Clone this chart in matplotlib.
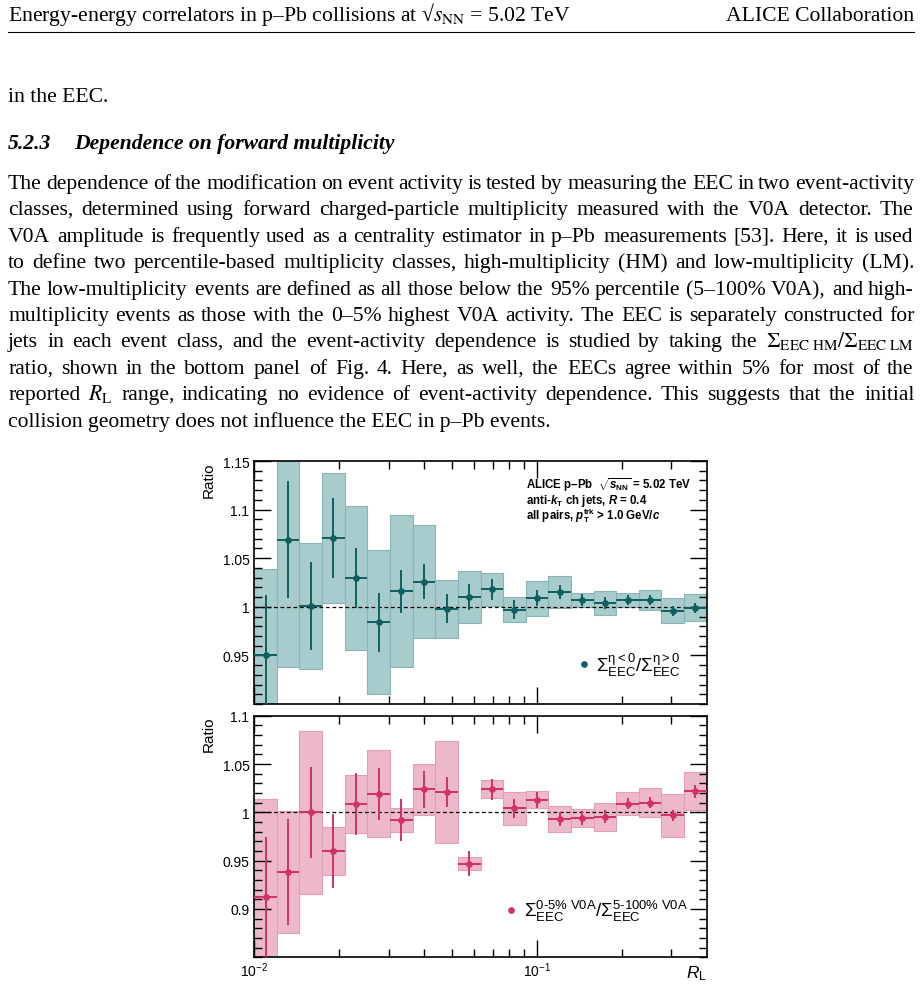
import re
import numpy as np
import matplotlib
matplotlib.use('Agg')
import matplotlib.pyplot as plt
from matplotlib.ticker import FixedLocator, FixedFormatter, MultipleLocator, NullFormatter

W, H = 922, 987

plt.rcParams['font.family'] = ['Liberation Sans', 'DejaVu Sans']
plt.rcParams['mathtext.fontset'] = 'custom'
plt.rcParams['mathtext.rm'] = 'Liberation Sans'
plt.rcParams['mathtext.it'] = 'Liberation Sans:italic'
plt.rcParams['mathtext.bf'] = 'Liberation Sans:bold'
plt.rcParams['mathtext.bfit'] = 'Liberation Sans:italic:bold'

# R_L bin edges (log bins from 0.01 to 0.4)
edges = np.array([0.01, 0.012023, 0.014454, 0.017377, 0.020892, 0.025149, 0.030236,
                  0.036357, 0.043722, 0.052586, 0.063246, 0.076063, 0.091477, 0.11001,
                  0.13226, 0.15906, 0.19127, 0.23003, 0.27660, 0.33262, 0.4])

# eta<0 / eta>0
top_val = [0.950, 1.069, 1.001, 1.071, 1.030, 0.984, 1.016, 1.026, 0.998, 1.010,
           1.018, 0.997, 1.009, 1.015, 1.007, 1.004, 1.007, 1.007, 0.996, 0.999]
top_stat = [0.062, 0.060, 0.045, 0.041, 0.031, 0.030, 0.022, 0.018, 0.015, 0.013,
            0.011, 0.0095, 0.008, 0.007, 0.006, 0.006, 0.0055, 0.0055, 0.005, 0.005]
top_syst = [0.089, 0.131, 0.065, 0.067, 0.074, 0.074, 0.078, 0.058, 0.030, 0.027,
            0.017, 0.013, 0.018, 0.0165, 0.0075, 0.012, 0.0075, 0.0105, 0.013, 0.014]

# 0-5% V0A / 5-100% V0A
bot_val = [0.912, 0.938, 1.000, 0.960, 1.009, 1.019, 0.992, 1.024, 1.021, 0.947,
           1.024, 1.004, 1.013, 0.993, 0.994, 0.9955, 1.009, 1.010, 0.997, 1.022]
bot_stat = [0.062, 0.055, 0.047, 0.038, 0.032, 0.027, 0.022, 0.019, 0.0155, 0.0126,
            0.011, 0.0097, 0.008, 0.0074, 0.0074, 0.0065, 0.006, 0.006, 0.0059, 0.0067]
bot_syst = [0.102, 0.063, 0.084, 0.0245, 0.030, 0.045, 0.0122, 0.0265, 0.0526, 0.007,
            0.0095, 0.0167, 0.009, 0.0133, 0.0093, 0.0143, 0.0122, 0.0148, 0.022, 0.0195]

header_left = r"Energy-energy correlators in p–Pb collisions at √$s_{\mathrm{NN}}$ = 5.02 TeV"
header_right = "ALICE Collaboration"
prev_line = "in the EEC."
sec_num = "5.2.3"
sec_title = "Dependence on forward multiplicity"
paragraph = [
    "The dependence of the modification on event activity is tested by measuring the EEC in two event-activity",
    "classes, determined using forward charged-particle multiplicity measured with the V0A detector.  The",
    "V0A amplitude is frequently used as a centrality estimator in p–Pb measurements [53]. Here, it is used",
    "to define two percentile-based multiplicity classes, high-multiplicity (HM) and low-multiplicity (LM).",
    "The low-multiplicity events are defined as all those below the 95% percentile (5–100% V0A), and high-",
    "multiplicity events as those with the 0–5% highest V0A activity. The EEC is separately constructed for",
    r"jets in each event class, and the event-activity dependence is studied by taking the $\Sigma_{\rm EEC\ HM}/\Sigma_{\rm EEC\ LM}$",
    "ratio, shown in the bottom panel of Fig. 4.  Here, as well, the EECs agree within 5% for most of the",
    r"reported $R_{\rm L}$ range, indicating no evidence of event-activity dependence.  This suggests that the initial",
    "collision geometry does not influence the EEC in p–Pb events.",
]

fig = plt.figure(figsize=(W / 100, H / 100), dpi=100)
renderer = fig.canvas.get_renderer()
body = dict(family=['Liberation Serif', 'DejaVu Serif'], fontsize=15.6,
            math_fontfamily='stix', color='black')


def fy(y):
    return 1 - y / H


def width_of(s, **kw):
    t = fig.text(0, 0, s, **kw)
    w = t.get_window_extent(renderer).width
    t.remove()
    return w


def justified(line, y, x0=8, x1=914, last=False):
    if last:
        fig.text(x0 / W, fy(y), line, va='baseline', ha='left', **body)
        return
    # keep $...$ pieces together as one word
    words = re.findall(r'(?:\$[^$]*\$|[^\s$])+', line)
    ws = [width_of(w, **body) for w in words]
    gap = (x1 - x0 - sum(ws)) / (len(words) - 1)
    x = x0
    for w, wd in zip(words, ws):
        fig.text(round(x) / W, fy(y), w, va='baseline', ha='left', **body)
        x += wd + gap


# page header
fig.text(8 / W, fy(21), header_left, va='baseline', ha='left', **body)
fig.text(914 / W, fy(21), header_right, va='baseline', ha='right', **body)
fig.add_artist(plt.Line2D([8 / W, 914 / W], [fy(33), fy(33)], color='black', lw=0.8))

fig.text(8 / W, fy(102), prev_line, va='baseline', ha='left', **body)
fig.text(8 / W, fy(149), sec_num, va='baseline', ha='left', weight='bold', style='italic', **body)
fig.text(74 / W, fy(149), sec_title, va='baseline', ha='left', weight='bold', style='italic', **body)

for i, line in enumerate(paragraph):
    justified(line, round(189 + 26.4 * i), last=(i == len(paragraph) - 1))

# figure panels
x_left, x_right = 254.3, 706.7
ax1 = fig.add_axes([x_left / W, fy(705), (x_right - x_left) / W, (705 - 462) / H])
ax2 = fig.add_axes([x_left / W, fy(958.3), (x_right - x_left) / W, (958.3 - 716.7) / H])

lo, hi = edges[:-1], edges[1:]
centers = np.sqrt(lo * hi)


def panel(ax, val, stat, syst, fill, edge, mcol, ylim, majors, labels):
    val, stat, syst = np.array(val), np.array(stat), np.array(syst)
    ax.bar(lo, 2 * syst, bottom=val - syst, width=hi - lo, align='edge',
           color=fill, edgecolor=edge, lw=0.8, zorder=1)
    ax.axhline(1, color='black', ls=(0, (3, 2.2)), lw=0.9, zorder=2)
    ax.errorbar(centers, val, yerr=stat, xerr=[centers - lo, hi - centers], fmt='o',
                ms=3.8, color=mcol, elinewidth=1.4, capsize=0, zorder=3)
    ax.set_xscale('log')
    ax.set_xlim(0.01, 0.4)
    ax.set_ylim(*ylim)
    ax.yaxis.set_major_locator(FixedLocator(majors))
    ax.yaxis.set_major_formatter(FixedFormatter(labels))
    ax.yaxis.set_minor_locator(MultipleLocator(0.01))
    ax.xaxis.set_major_locator(FixedLocator([0.01, 0.1]))
    ax.xaxis.set_minor_locator(FixedLocator([0.02, 0.03, 0.04, 0.05, 0.06, 0.07, 0.08,
                                             0.09, 0.2, 0.3]))
    ax.xaxis.set_minor_formatter(NullFormatter())
    ax.tick_params(which='both', direction='in', top=True, right=True, width=1.0,
                   labelsize=10, pad=3.5, color='black')
    ax.tick_params(axis='x', pad=2.5)
    ax.tick_params(which='major', length=12)
    ax.tick_params(which='minor', length=6)
    for s in ax.spines.values():
        s.set_linewidth(1.2)


panel(ax1, top_val, top_stat, top_syst, '#a8cccc', '#88b6b6', '#0f5f5f',
      (0.9, 1.15), [0.95, 1.0, 1.05, 1.1, 1.15], ['0.95', '1', '1.05', '1.1', '1.15'])
panel(ax2, bot_val, bot_stat, bot_syst, '#eeb8cb', '#e29fb8', '#d1306a',
      (0.85, 1.1), [0.9, 0.95, 1.0, 1.05, 1.1], ['0.9', '0.95', '1', '1.05', '1.1'])

ax1.xaxis.set_major_formatter(NullFormatter())
ax2.xaxis.set_major_formatter(FixedFormatter([r'$10^{-2}$', r'$10^{-1}$']))
ax2.text(1.0, -0.025, r'$R_{\rm L}$', transform=ax2.transAxes, ha='right', va='top', fontsize=12.5)

fig.text(209 / W, fy(462), 'Ratio', rotation=90, ha='center', va='top', fontsize=11)
fig.text(209 / W, fy(716.7), 'Ratio', rotation=90, ha='center', va='top', fontsize=11)

# panel annotations
info = [r"ALICE p–Pb  $\sqrt{\mathbfit{s}_{\mathbf{NN}}}$ = 5.02 TeV",
        r"anti-$\mathbfit{k}_{\mathbf{T}}$ ch jets, $\mathbfit{R}$ = 0.4",
        r"all pairs, $\mathbfit{p}_{\mathbf{T}}^{\mathbf{trk}}$ > 1.0 GeV/$\mathbfit{c}$"]
for i, s in enumerate(info):
    ax1.text(0.601, 0.889 - 0.063 * i, s, transform=ax1.transAxes, fontsize=8.3,
             weight='bold', va='baseline')

ax1.plot([0.729], [0.165], 'o', ms=3.8, color='#0f5f5f', transform=ax1.transAxes, clip_on=False)
ax1.text(0.755, 0.165, r"$\Sigma^{\mathrm{η<0}}_{\mathrm{EEC}}/\Sigma^{\mathrm{η>0}}_{\mathrm{EEC}}$",
         transform=ax1.transAxes, fontsize=13.5, va='center')
ax2.plot([0.567], [0.194], 'o', ms=3.8, color='#d1306a', transform=ax2.transAxes, clip_on=False)
ax2.text(0.597, 0.194,
         r"$\Sigma^{\mathrm{0\text{-}5\%\ V0A}}_{\mathrm{EEC}}/\Sigma^{\mathrm{5\text{-}100\%\ V0A}}_{\mathrm{EEC}}$",
         transform=ax2.transAxes, fontsize=13.5, va='center')

fig.savefig('out.png', dpi=100)
